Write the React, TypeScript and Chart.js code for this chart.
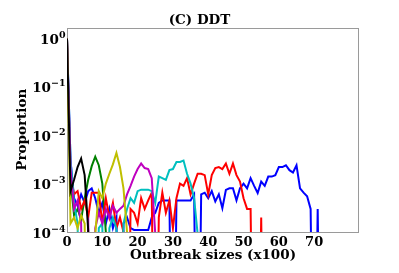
import React, { useEffect, useRef } from "react";
import { Chart, registerables } from "chart.js";

Chart.register(...registerables);

// Proportion of outbreaks per size bin (x100), one array per scenario
const blackSeries = [1.0, 7e-4, 1.2e-3, 2.2e-3, 3.3e-3, 1.5e-3, 1.1e-4, 0];
const greenSeries = [1.0, 1.2e-3, 2.2e-4, 3e-4, 1.8e-4, 5e-4, 1.2e-3, 2.3e-3, 3.6e-3, 2.4e-3, 1e-3, 1e-4, 0];
const yellowSeries = [1.0, 1.5e-4, 2e-4, 1.2e-4, 2.2e-4, 1.5e-4, 0, 0, 9e-5, 7e-4, 5e-4, 1e-3, 1.6e-3, 2.5e-3, 4.3e-3, 2.2e-3, 8e-4, 1e-4, 0];
const magentaSeries = [1.0, 2e-3, 3e-4, 4.5e-4, 1.5e-4, 0, 2e-4, 0, 1.2e-4, 2.5e-4, 1.5e-4, 3e-4, 2e-4, 3.5e-4, 2.5e-4, 3e-4, 3.5e-4, 6e-4, 9e-4, 1.4e-3, 2e-3, 2.6e-3, 2.1e-3, 2e-3, 1.3e-3, 9e-5, 0];
const cyanSeries = [1.0, 3e-3, 4e-4, 1.5e-4, 0, 0, 0, 0, 0, 1.2e-4, 1.5e-4, 0, 1.2e-4, 2e-4, 1.2e-4, 0, 1.5e-4, 3e-4, 5e-4, 4e-4, 7e-4, 7.5e-4, 7.5e-4, 7.5e-4, 7e-4, 4e-4, 1.4e-3, 1.3e-3, 1.2e-3, 1.9e-3, 2e-3, 2.8e-3, 2.8e-3, 3e-3, 1.6e-3, 1e-3, 5e-4, 9e-5, 0];
const redSeries = [1.0, 1.5e-3, 6e-4, 7e-4, 3e-4, 4.5e-4, 2e-4, 6.5e-4, 6.5e-4, 6.5e-4, 1.5e-4, 5e-4, 2e-4, 4e-4, 1.2e-4, 2e-4, 1e-4, 0, 3e-4, 2.5e-4, 1.5e-4, 5e-4, 3e-4, 4.5e-4, 6.5e-4, 0, 2e-4, 6.5e-4, 2.5e-4, 4.5e-4, 1.2e-4, 5e-4, 1e-3, 9e-4, 1.3e-3, 6e-4, 1e-3, 1.6e-3, 1.6e-3, 1.5e-3, 6e-4, 1.5e-3, 2.1e-3, 2.2e-3, 2e-3, 2.6e-3, 1.6e-3, 2.6e-3, 1.5e-3, 1.1e-3, 5e-4, 3e-4, 3e-4, 0, 0, 2e-4, 0];
const blueSeries = [1.0, 3e-3, 5e-4, 3.5e-4, 6e-4, 4e-4, 7e-4, 8e-4, 5e-4, 2.5e-4, 4e-4, 1.5e-4, 3e-4, 1.2e-4, 2e-4, 0, 1.5e-4, 2e-4, 1.2e-4, 1.1e-4, 1.1e-4, 1.1e-4, 1.1e-4, 1.1e-4, 2e-4, 2.5e-4, 4e-4, 4.5e-4, 4.5e-4, 4.5e-4, 0, 4.5e-4, 4.5e-4, 4.5e-4, 4.5e-4, 4.5e-4, 6e-4, 0, 6e-4, 6.5e-4, 5e-4, 7e-4, 4.3e-4, 6e-4, 3.1e-4, 7.4e-4, 8e-4, 8e-4, 4.5e-4, 8e-4, 1e-3, 8e-4, 1.3e-3, 9e-4, 6.4e-4, 1.1e-3, 9e-4, 1.4e-3, 1.4e-3, 1.5e-3, 2.2e-3, 2.2e-3, 2.4e-3, 1.9e-3, 1.7e-3, 2.4e-3, 8e-4, 6.5e-4, 5.5e-4, 3e-4, 0, 3e-4, 0];

const xTickValues = [0, 10, 20, 30, 40, 50, 60, 70];
const yTickValues = [1e-4, 1e-3, 1e-2, 1e-1, 1];
const yTickBase = "10";
const yTickExponents = ["\u22124", "\u22123", "\u22122", "\u22121", "0"];

const seriesList = [
  { name: "blue", data: blueSeries, color: "#0000ff" },
  { name: "green", data: greenSeries, color: "#008000" },
  { name: "red", data: redSeries, color: "#ff0000" },
  { name: "cyan", data: cyanSeries, color: "#00bfbf" },
  { name: "magenta", data: magentaSeries, color: "#bf00bf" },
  { name: "yellow", data: yellowSeries, color: "#bfbf00" },
  { name: "black", data: blackSeries, color: "#000000" },
];

const FONT = "'DejaVu Serif', serif";

const framePlugin = {
  id: "frame",
  beforeDatasetsDraw(chart: any) {
    const { ctx, chartArea } = chart;
    ctx.save();
    ctx.strokeStyle = "#9a9a9a";
    ctx.lineWidth = 1;
    ctx.strokeRect(
      Math.round(chartArea.left) + 0.5,
      Math.round(chartArea.top) + 0.5,
      Math.round(chartArea.right - chartArea.left) - 1,
      Math.round(chartArea.bottom - chartArea.top) - 1
    );
    ctx.restore();
  },
};

// Draws "10" with a raised exponent, like mathtext tick labels
const powerLabelsPlugin = {
  id: "powerLabels",
  afterDraw(chart: any) {
    const { ctx } = chart;
    const scale = chart.scales.y;
    const right = chart.chartArea.left - 1.5;
    ctx.save();
    ctx.fillStyle = "#000";
    ctx.textAlign = "left";
    ctx.textBaseline = "alphabetic";
    yTickValues.forEach((v, i) => {
      const y = scale.getPixelForValue(v);
      ctx.font = `bold 9.5px ${FONT}`;
      const exp = yTickExponents[i];
      const ew = ctx.measureText(exp).width;
      ctx.font = `bold 13.5px ${FONT}`;
      const bw = ctx.measureText(yTickBase).width;
      ctx.fillText(yTickBase, right - ew - bw, y + 5.5);
      ctx.font = `bold 9.5px ${FONT}`;
      ctx.fillText(exp, right - ew, y - 0.5);
    });
    ctx.restore();
  },
};

export default function App() {
  const ref = useRef<HTMLCanvasElement | null>(null);
  useEffect(() => {
    document.body.style.margin = "0";
    const canvas = ref.current;
    if (!canvas) return;
    // matplotlib-style clipping of zero bins far below the log axis
    const datasets = seriesList.slice().reverse().map((s) => ({
      label: s.name,
      data: s.data.map((v, i) => ({ x: i, y: v > 0 ? v : 1e-9 })),
      borderColor: s.color,
      backgroundColor: s.color,
      borderWidth: 2,
      pointRadius: 0,
      tension: 0,
      fill: false,
    }));
    const chart = new Chart(canvas, {
      type: "line",
      data: { datasets },
      options: {
        animation: false,
        responsive: false,
        devicePixelRatio: 1,
        layout: { padding: 0 },
        plugins: {
          legend: { display: false },
          tooltip: { enabled: false },
          title: {
            display: true,
            text: "(C) DDT",
            color: "#000",
            font: { family: FONT, weight: "bold", size: 13.5, lineHeight: 1 },
            padding: { top: 14, bottom: 0 },
          },
        },
        scales: {
          x: {
            type: "linear",
            min: 0,
            max: 82.7,
            grid: { display: false, drawTicks: false },
            border: { display: false },
            afterBuildTicks: (s: any) => {
              s.ticks = xTickValues.map((v) => ({ value: v }));
            },
            afterFit: (s: any) => {
              s.height = 41;
            },
            ticks: {
              autoSkip: false,
              maxRotation: 0,
              padding: 3,
              color: "#000",
              font: { family: FONT, weight: "bold", size: 13 },
              callback: (v: any) => String(v),
            },
            title: {
              display: true,
              text: "Outbreak sizes (x100)",
              color: "#000",
              font: { family: FONT, weight: "bold", size: 13.5, lineHeight: 1.2 },
              padding: { top: 0, bottom: 9 },
            },
          },
          y: {
            type: "logarithmic",
            min: 1e-4,
            max: 1.69,
            grid: { display: false, drawTicks: false },
            border: { display: false },
            afterBuildTicks: (s: any) => {
              s.ticks = yTickValues.map((v) => ({ value: v }));
            },
            afterFit: (s: any) => {
              s.width = 67;
            },
            ticks: { display: false },
            title: {
              display: true,
              text: "Proportion",
              color: "#000",
              font: { family: FONT, weight: "bold", size: 13.5, lineHeight: 1.2 },
              padding: { top: 14.7, bottom: 0 },
            },
          },
          yRight: {
            type: "linear",
            position: "right",
            display: true,
            grid: { display: false, drawTicks: false },
            border: { display: false },
            ticks: { display: false },
            afterFit: (s: any) => {
              s.width = 40;
            },
          },
        },
      } as any,
      plugins: [framePlugin, powerLabelsPlugin],
    });
    return () => chart.destroy();
  }, []);
  return (
    <div style={{ width: 399, height: 273 }}>
      <canvas ref={ref} width={399} height={273} style={{ display: "block", width: 399, height: 273 }} />
    </div>
  );
}
